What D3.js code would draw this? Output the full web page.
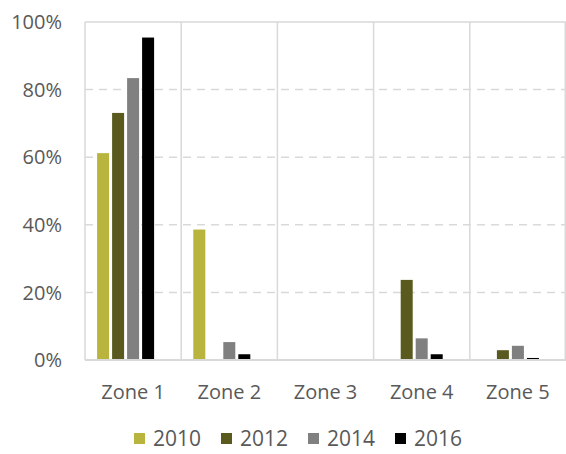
<!DOCTYPE html>
<html>
<head>
<meta charset="utf-8">
<script src="https://cdn.jsdelivr.net/npm/d3@7"></script>
<style>
  body { margin: 0; background: #fff; overflow: hidden; }
  text { font-family: "Open Sans", sans-serif; fill: #595959; }
</style>
</head>
<body>
<div id="chart"></div>
<script>
// Data
const zones = ["Zone 1", "Zone 2", "Zone 3", "Zone 4", "Zone 5"];
const years = ["2010", "2012", "2014", "2016"];
const v2010 = [0.612, 0.386, 0, 0, 0];
const v2012 = [0.731, 0, 0, 0.237, 0.029];
const v2014 = [0.834, 0.053, 0, 0.064, 0.042];
const v2016 = [0.954, 0.017, 0, 0.017, 0.006];
const yTicks = [0, 0.2, 0.4, 0.6, 0.8, 1];
const colors = ["#b8b43d", "#5a5a1e", "#808080", "#000000"];

const series = [v2010, v2012, v2014, v2016];

const WIDTH = 566;
const HEIGHT = 454;
const margin = { top: 22, right: 0, bottom: 94, left: 85 };
const width = WIDTH - margin.left - margin.right;
const height = HEIGHT - margin.top - margin.bottom;

const svg = d3
  .select("#chart")
  .append("svg")
  .attr("width", WIDTH)
  .attr("height", HEIGHT)
  .append("g")
  .attr("transform", `translate(${margin.left}, ${margin.top})`);

const x0 = d3.scaleBand().domain(zones).range([0, width]);

// bars sit in 4 of 5 slots (15px each) centred on the zone
const x1 = d3
  .scaleBand()
  .domain(years)
  .range([0, 60])
  .paddingInner(0.2)
  .paddingOuter(0.1);
const groupOffset = x0.bandwidth() / 2 - 37.5;

const y = d3.scaleLinear().domain([0, 1]).range([height, 0]);

const grid = "#d9d9d9";

// dashed horizontal grid
svg
  .selectAll(".hgrid")
  .data(yTicks.filter(d => d > 0 && d < 1))
  .join("line")
  .attr("x1", 0)
  .attr("x2", width)
  .attr("y1", d => y(d))
  .attr("y2", d => y(d))
  .attr("stroke", grid)
  .attr("stroke-width", 1.5)
  .attr("stroke-dasharray", "8,6");

// top line
svg
  .append("line")
  .attr("x1", 0)
  .attr("x2", width)
  .attr("y1", y(1))
  .attr("y2", y(1))
  .attr("stroke", grid)
  .attr("stroke-width", 1.5);

// vertical category lines
svg
  .selectAll(".vgrid")
  .data(zones.concat(["end"]))
  .join("line")
  .attr("x1", (d, i) => (i < zones.length ? x0(d) : width - 0.75))
  .attr("x2", (d, i) => (i < zones.length ? x0(d) : width - 0.75))
  .attr("y1", y(1))
  .attr("y2", y(0))
  .attr("stroke", grid)
  .attr("stroke-width", 1.5);

// bars
const groups = svg
  .selectAll(".zone")
  .data(zones)
  .join("g")
  .attr("transform", d => `translate(${x0(d) + groupOffset}, 0)`);

groups
  .selectAll("rect")
  .data((d, i) => years.map((yr, j) => ({ year: yr, j: j, value: series[j][i] })))
  .join("rect")
  .filter(d => d.value > 0)
  .attr("x", d => x1(d.year))
  .attr("y", d => y(d.value))
  .attr("width", x1.bandwidth())
  .attr("height", d => y(0) - y(d.value))
  .attr("fill", d => colors[d.j]);

// baseline
svg
  .append("line")
  .attr("x1", 0)
  .attr("x2", width)
  .attr("y1", y(0))
  .attr("y2", y(0))
  .attr("stroke", grid)
  .attr("stroke-width", 2);

// y labels
svg
  .selectAll(".ylab")
  .data(yTicks)
  .join("text")
  .attr("x", -23)
  .attr("y", d => y(d))
  .attr("dy", "0.36em")
  .attr("text-anchor", "end")
  .style("font-size", "20px")
  .text(d => d3.format(".0%")(d));

// x labels
svg
  .selectAll(".xlab")
  .data(zones)
  .join("text")
  .attr("x", d => x0(d) + x0.bandwidth() / 2)
  .attr("y", height + 39)
  .attr("text-anchor", "middle")
  .style("font-size", "20px")
  .text(d => d);

// legend
const legend = svg
  .selectAll(".legend")
  .data(years)
  .join("g")
  .attr("transform", (d, i) => `translate(${49 + i * 87}, ${height + 73})`);

legend
  .append("rect")
  .attr("x", 0)
  .attr("y", 0)
  .attr("width", 11)
  .attr("height", 11)
  .attr("fill", (d, i) => colors[i]);

legend
  .append("text")
  .attr("x", 19)
  .attr("y", 6)
  .attr("dy", "0.34em")
  .style("font-size", "21px")
  .text(d => d);
</script>
</body>
</html>
